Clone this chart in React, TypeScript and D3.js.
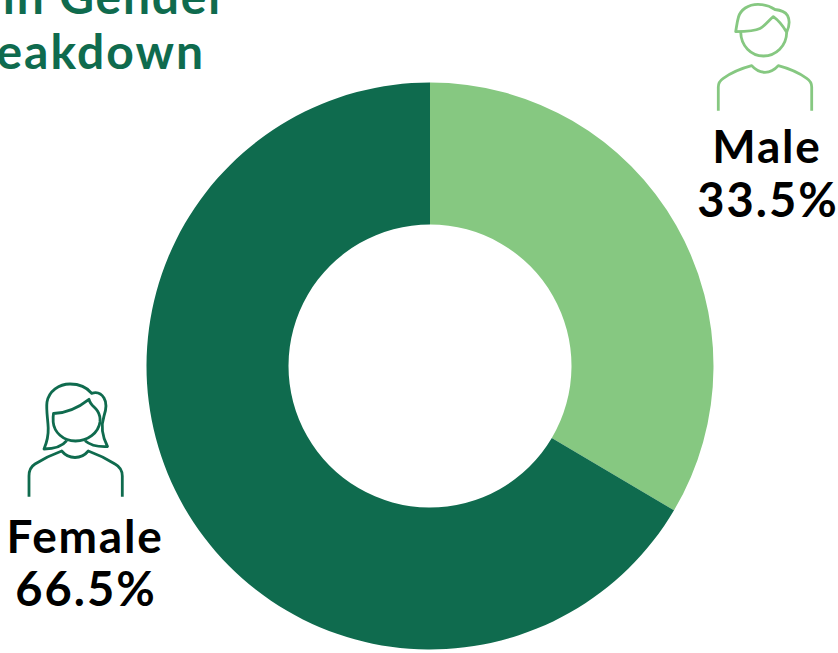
import React from "react";
import * as d3 from "d3";

const categories = ["Male", "Female"];
const shares = [33.5, 66.5];
const sliceColors = ["#86c881", "#0f6b4e"];
const titleLines = ["in Gender", "Breakdown"];

const cx = 430, cy = 366, rOuter = 283.5, rInner = 141.5;
const font = "Lato, sans-serif";

const pieGen = d3.pie<number>().sort(null).value((d) => d);
const arcGen = d3.arc<d3.PieArcDatum<number>>().innerRadius(rInner).outerRadius(rOuter);

const femaleIcon = [
  "M29,496.7 L29,476 C29,470 31,466.5 35,464 C43,459 52,454.5 61.7,451 C65,455 69.5,457.5 75,457.5 C80.5,457.5 85,455 88.3,451 C98,454.5 107,459 115,464 C119.5,466.5 122.3,470 122.3,476 L122.3,496.7",
  "M66.7,440.7 C63,445.5 56,449 44,449 C47,442 48.5,436 48.2,428 C47.8,418 46,410 47,402 C49,391 59,384 70,384 C79,384 87,387.5 91.7,393.3 C96,392 101,393 104,398 C107,403 106,410 104,416 C101,425 101,434 107.5,446.5 C97,447 90,445 85,440.7",
  "M53.5,413.5 C67,413 78,408 89,399.3 C90,405 95,407 97.5,411 C100,415 100.3,419 100,422 C98.5,433 87.5,441 75.5,441 C63,441 54,432 53.2,422 C53,418 53,416 53.5,413.5 Z",
];
const maleIcon = [
  "M718.3,110.7 L718.3,87 C718.3,83 720,80.5 723.3,78.3 C731,73 741,68.5 751.7,65.7 C755,69.5 759.5,72.3 765,72.3 C770.5,72.3 775,69.5 778.3,65.7 C789,68.5 799,73 806.7,78.3 C810,80.5 811.7,83 811.7,87 L811.7,110.7",
  "M735.7,31.7 C747,31.5 755,31 760,28.5 C765,26 769,20 773.3,16.7 C778,20 783,26 786.7,32.3 C789,27 790,20 787.5,15.5 C785,11.5 780,10 775,9.5 C770,6 764,4.3 758,4.3 C748,4.3 740.5,10 738.5,17 C737,22 736.5,27 735.7,31.7 Z",
  "M740.7,32 C741,46 751,56 763.5,56 C776,56 786.5,46 786.7,32.3",
];

export default function App() {
  const arcs = pieGen(shares);
  return (
    <svg width={838} height={653} style={{ position: "fixed", left: 0, top: 0, background: "#fff" }}>
      {arcs.map((a, i) => (
        <path key={categories[i]} d={arcGen(a) as string} transform={`translate(${cx},${cy})`} fill={sliceColors[i]} />
      ))}
      <g fontFamily={font} fontWeight={700} fontSize={48} fill="#0f6b4e">
        <text x={228} y={14} textAnchor="end" letterSpacing={1.8}>{titleLines[0]}</text>
        <text x={205} y={69} textAnchor="end" letterSpacing={2}>{titleLines[1]}</text>
      </g>
      <g fill="none" stroke="#0f6b4e" strokeWidth={2.8} strokeLinejoin="round">
        {femaleIcon.map((d, i) => <path key={i} d={d} />)}
      </g>
      <g fill="none" stroke="#86c881" strokeWidth={2.8} strokeLinejoin="round">
        {maleIcon.map((d, i) => <path key={i} d={d} />)}
      </g>
      <g fontFamily={font} fontWeight={700} fontSize={46} fill="#000" textAnchor="middle" letterSpacing={1.8}>
        <text x={767} y={163}>{categories[0]}</text>
        <text x={85} y={553}>{categories[1]}</text>
      </g>
      <g fontFamily={font} fontWeight={700} fontSize={47} fill="#000" textAnchor="middle" letterSpacing={2}>
        <text x={768} y={217}>{shares[0].toFixed(1)}%</text>
        <text x={86} y={606}>{shares[1].toFixed(1)}%</text>
      </g>
    </svg>
  );
}
